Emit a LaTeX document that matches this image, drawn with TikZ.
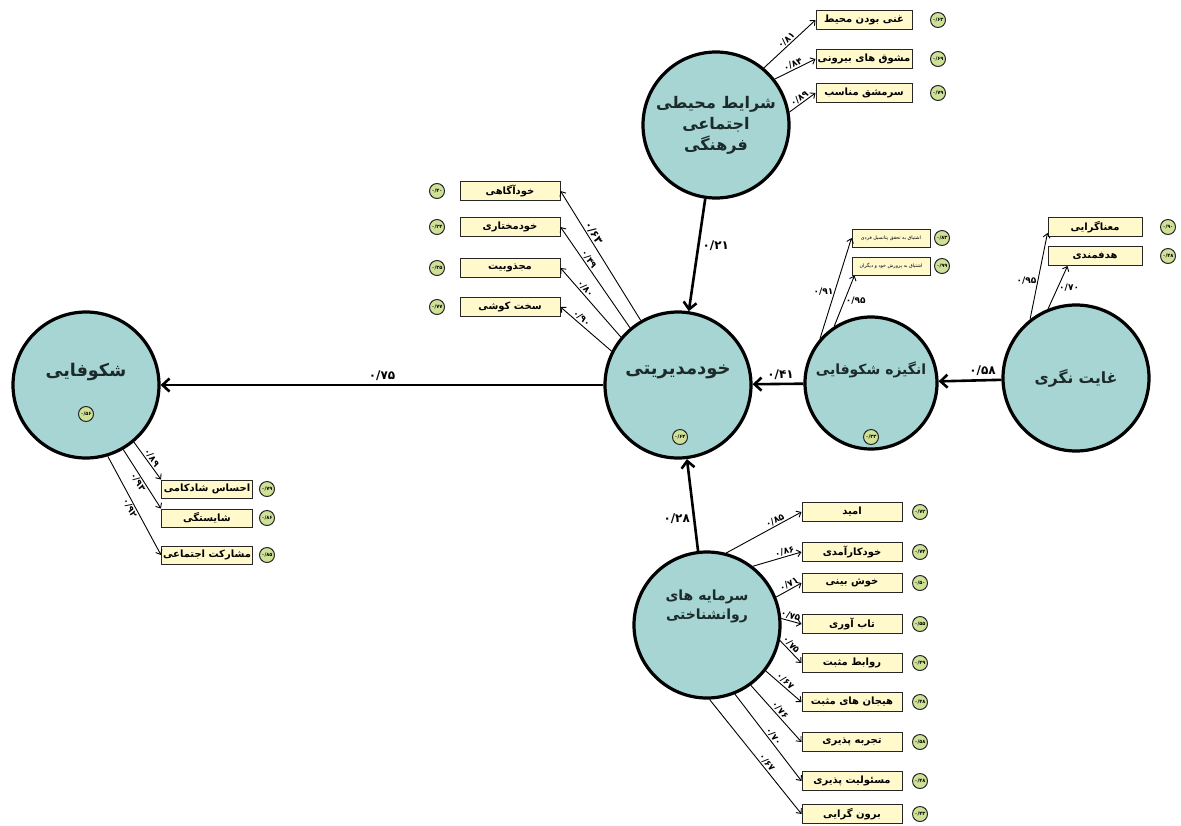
\documentclass[tikz,border=0pt]{standalone}
\usepackage{fontspec}
\setmainfont{DejaVu Sans}
\newfontfamily\fafont[Script=Arabic]{DejaVu Sans}
\TeXXeTstate=1
\usetikzlibrary{arrows.meta}

\definecolor{latentfill}{RGB}{166,213,211}
\definecolor{boxfill}{RGB}{255,249,204}
\definecolor{badgefill}{RGB}{206,225,150}
\definecolor{inktext}{RGB}{28,42,42}

\tikzset{
  latent/.style={circle, draw=black, line width=3.2pt, fill=latentfill, minimum size=146pt,
    inner sep=0pt, align=center, text=inktext, font=\fafont\bfseries\fontsize{14}{19}\selectfont},
  lift/.style={text depth=#1},
  fsize/.style={font=\fafont\bfseries\fontsize{#1}{#1}\selectfont},
  ind/.style={draw=black!85, line width=1pt, fill=boxfill, minimum width=96pt, minimum height=19pt,
    inner sep=1pt, font=\fafont\bfseries\fontsize{10}{11}\selectfont},
  rsq/.style={circle, draw=black!85, line width=1pt, fill=badgefill, minimum size=15pt,
    inner sep=0pt, font=\fafont\bfseries\fontsize{5}{6}\selectfont},
  effect/.style={line width=2.6pt, -{Straight Barb[length=7pt,width=13pt]}},
  load/.style={line width=0.9pt, -{Straight Barb[length=4pt,width=7pt]}},
  coef/.style={font=\fafont\bfseries\fontsize{9}{10}\selectfont, inner sep=1pt},
  bigcoef/.style={font=\fafont\bfseries\fontsize{12}{14}\selectfont, inner sep=3pt}
}

\begin{document}
\begin{tikzpicture}[x=1pt, y=-1pt]

    % Frame of the whole picture (pixel grid, y downwards)
    \useasboundingbox (0,0) rectangle (1181,825);

    % Latent variables
    \node[latent, lift=30pt, fsize=17.5] (shk) at (86,385) {\beginR شکوفایی\endR};
    \node[latent, lift=30pt, fsize=18] (kh) at (678,385) {\beginR خودمدیریتی\endR};
    \node[latent, lift=30pt, minimum size=132pt] (ang) at (871,383) {\beginR انگیزه شکوفایی\endR};
    \node[latent, fsize=15.5] (gh) at (1076,378) {\beginR غایت نگری\endR};
    \node[latent, font=\fafont\bfseries\fontsize{16}{21}\selectfont] (sh) at (716,125) {\beginR شرایط محیطی\endR\\ \beginR اجتماعی\endR\\ \beginR فرهنگی\endR};
    \node[latent, lift=40pt] (sar) at (707,625) {\beginR سرمایه های\endR\\ \beginR روانشناختی\endR};

    % Badges inside the circles
    \node[rsq] (shkr) at (86,414) {۰/۵۶};
    \node[rsq] (khr) at (680,437) {۰/۶۴};
    \node[rsq] (angr) at (871,437) {۰/۳۳};

    % Indicators of the environment factor
    \node[ind] (sh1) at (864,20) {\beginR غنی بودن محیط\endR};
    \node[ind] (sh2) at (864,59) {\beginR مشوق های بیرونی\endR};
    \node[ind] (sh3) at (864,93) {\beginR سرمشق مناسب\endR};
    \node[rsq] (sh1r) at (938,20) {۰/۶۳};
    \node[rsq] (sh2r) at (938,59) {۰/۶۹};
    \node[rsq] (sh3r) at (938,93) {۰/۷۹};

    % Indicators of self management
    \node[ind, minimum width=100pt] (kh1) at (510,191) {\beginR خودآگاهی\endR};
    \node[ind, minimum width=100pt] (kh2) at (510,227) {\beginR خودمختاری\endR};
    \node[ind, minimum width=100pt] (kh3) at (510,268) {\beginR مجذوبیت\endR};
    \node[ind, minimum width=100pt] (kh4) at (510,307) {\beginR سخت کوشی\endR};
    \node[rsq] (kh1r) at (437,191) {۰/۴۰};
    \node[rsq] (kh2r) at (437,227) {۰/۲۴};
    \node[rsq] (kh3r) at (437,268) {۰/۳۵};
    \node[rsq] (kh4r) at (437,307) {۰/۷۷};

    % Indicators of motivation
    \node[ind, minimum width=78pt, minimum height=18pt, font=\fafont\fontsize{4.8}{5}\selectfont] (ang1) at (891,238) {\beginR اشتیاق به تحقق پتانسیل فردی\endR};
    \node[ind, minimum width=78pt, minimum height=18pt, font=\fafont\fontsize{4.8}{5}\selectfont] (ang2) at (891,266) {\beginR اشتیاق به پرورش خود و دیگران\endR};
    \node[rsq] (ang1r) at (942,238) {۰/۸۳};
    \node[rsq] (ang2r) at (942,266) {۰/۹۹};

    % Indicators of purposefulness
    \node[ind, minimum width=94pt] (gh1) at (1095,227) {\beginR معناگرایی\endR};
    \node[ind, minimum width=94pt] (gh2) at (1095,256) {\beginR هدفمندی\endR};
    \node[rsq] (gh1r) at (1168,227) {۰/۹۰};
    \node[rsq] (gh2r) at (1168,256) {۰/۴۸};

    % Indicators of flourishing
    \node[ind, minimum width=91pt, minimum height=18pt] (shk1) at (207,489) {\beginR احساس شادکامی\endR};
    \node[ind, minimum width=91pt, minimum height=18pt] (shk2) at (207,518) {\beginR شایستگی\endR};
    \node[ind, minimum width=91pt, minimum height=18pt] (shk3) at (207,555) {\beginR مشارکت اجتماعی\endR};
    \node[rsq] (shk1r) at (267,489) {۰/۷۹};
    \node[rsq] (shk2r) at (267,518) {۰/۸۶};
    \node[rsq] (shk3r) at (267,555) {۰/۸۵};

    % Indicators of psychological capital
    \node[ind, minimum width=100pt] (sar1) at (852,512) {\beginR امید\endR};
    \node[ind, minimum width=100pt] (sar2) at (852,552) {\beginR خودکارآمدی\endR};
    \node[ind, minimum width=100pt] (sar3) at (852,583) {\beginR خوش بینی\endR};
    \node[ind, minimum width=100pt] (sar4) at (852,624) {\beginR تاب آوری\endR};
    \node[ind, minimum width=100pt] (sar5) at (852,663) {\beginR روابط مثبت\endR};
    \node[ind, minimum width=100pt] (sar6) at (852,702) {\beginR هیجان های مثبت\endR};
    \node[ind, minimum width=100pt] (sar7) at (852,742) {\beginR تجربه پذیری\endR};
    \node[ind, minimum width=100pt] (sar8) at (852,781) {\beginR مسئولیت پذیری\endR};
    \node[ind, minimum width=100pt] (sar9) at (852,814) {\beginR برون گرایی\endR};
    \node[rsq] (sar1r) at (920,512) {۰/۷۲};
    \node[rsq] (sar2r) at (920,552) {۰/۷۴};
    \node[rsq] (sar3r) at (920,583) {۰/۵۰};
    \node[rsq] (sar4r) at (920,624) {۰/۵۵};
    \node[rsq] (sar5r) at (920,663) {۰/۴۹};
    \node[rsq] (sar6r) at (920,702) {۰/۴۸};
    \node[rsq] (sar7r) at (920,742) {۰/۵۸};
    \node[rsq] (sar8r) at (920,781) {۰/۴۸};
    \node[rsq] (sar9r) at (920,814) {۰/۴۳};

    % Loadings
    \draw[load] (sh.50) -- node[coef, sloped, above] {۰/۸۱} (sh1.west);
    \draw[load] (sh.38) -- node[coef, sloped, above] {۰/۸۴} (sh2.west);
    \draw[load] (sh.10) -- node[coef, sloped, above] {۰/۸۹} (sh3.west);

    \draw[load] (kh.120) -- node[coef, sloped, above, pos=0.65, fsize=11] {۰/۶۳} (kh1.east);
    \draw[load] (kh.130) -- node[coef, sloped, above, pos=0.65] {۰/۴۹} (kh2.east);
    \draw[load] (kh.140) -- node[coef, sloped, above, pos=0.65] {۰/۸۰} (kh3.east);
    \draw[load] (kh.153) -- node[coef, sloped, above, pos=0.65] {۰/۹۰} (kh4.east);

    \draw[load] (ang.139) -- node[coef, left, pos=0.47] {۰/۹۱} (ang1.west);
    \draw[load] (ang.123) -- node[coef, right, pos=0.5] {۰/۹۵} ([xshift=3pt]ang2.south west);

    \draw[load] (gh.128) -- node[coef, left, pos=0.45] {۰/۹۵} ([yshift=4pt]gh1.south west);
    \draw[load] (gh.112) -- node[coef, right, pos=0.5] {۰/۷۰} ([xshift=20pt]gh2.south west);

    \draw[load] (shk.-50) -- node[coef, sloped, above] {۰/۸۹} (shk1.north west);
    \draw[load] (shk.-60) -- node[coef, sloped, below] {۰/۹۳} (shk2.north west);
    \draw[load] (shk.-73) -- node[coef, sloped, below] {۰/۹۲} (shk3.west);

    \draw[load] (sar.75) -- node[coef, sloped, above, pos=0.68] {۰/۸۵} (sar1.west);
    \draw[load] (sar.52) -- node[coef, sloped, above, pos=0.68] {۰/۸۶} (sar2.west);
    \draw[load] (sar.22) -- node[coef, sloped, above, pos=0.6] {۰/۷۱} (sar3.west);
    \draw[load] (sar.5) -- node[coef, sloped, above, pos=0.4] {۰/۷۵} (sar4.west);
    \draw[load] (sar.-12) -- node[coef, sloped, above, pos=0.35] {۰/۷۵} (sar5.west);
    \draw[load] (sar.-38) -- node[coef, sloped, above, pos=0.45] {۰/۶۷} (sar6.west);
    \draw[load] (sar.-54) -- node[coef, sloped, above, pos=0.5] {۰/۷۶} (sar7.west);
    \draw[load] (sar.-68) -- node[coef, sloped, above, pos=0.52] {۰/۷۰} (sar8.west);
    \draw[load] (sar.-88) -- node[coef, sloped, above, pos=0.58] {۰/۶۷} (sar9.west);

    % Structural paths
    \draw[effect] (sh) -- node[bigcoef, right, pos=0.42] {۰/۲۱} (kh);
    \draw[effect] (gh) -- node[bigcoef, above, pos=0.3] {۰/۵۸} (ang);
    \draw[effect] (ang) -- node[bigcoef, above, pos=0.45] {۰/۴۱} (kh);
    \draw[effect] (kh) -- node[bigcoef, above] {۰/۷۵} (shk);
    \draw[effect] (sar) -- node[bigcoef, left, pos=0.35] {۰/۲۸} (kh);

\end{tikzpicture}
\end{document}
